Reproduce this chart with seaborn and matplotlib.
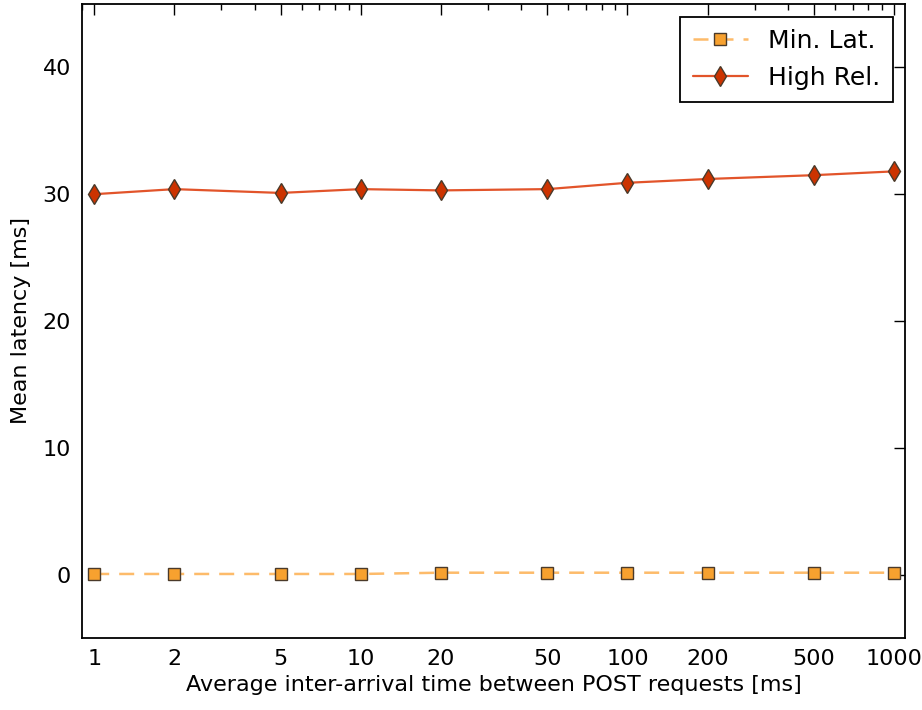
import matplotlib
matplotlib.use("Agg")
import matplotlib.pyplot as plt
import matplotlib.ticker as mticker
import seaborn as sns
import pandas as pd

# Inter-arrival times (ms) and measured mean latencies (ms)
inter_arrival = [1, 2, 5, 10, 20, 50, 100, 200, 500, 1000]
min_lat = [0.05, 0.05, 0.05, 0.05, 0.15, 0.15, 0.15, 0.15, 0.15, 0.15]
high_rel = [30.0, 30.4, 30.1, 30.4, 30.3, 30.4, 30.9, 31.2, 31.5, 31.8]
x_ticks = [1, 2, 5, 10, 20, 50, 100, 200, 500, 1000]

sns.set_style("white", {
    "xtick.direction": "in", "ytick.direction": "in",
    "axes.edgecolor": "black",
    "text.color": "black", "axes.labelcolor": "black",
    "xtick.color": "black", "ytick.color": "black",
})
plt.rcParams["font.family"] = ["DejaVu Sans"]
plt.rcParams["font.size"] = 16

df = pd.DataFrame({
    "x": inter_arrival * 2,
    "y": min_lat + high_rel,
    "config": ["Min. Lat."] * len(inter_arrival) + ["High Rel."] * len(inter_arrival),
})

fig = plt.figure(figsize=(9.22, 7.10), dpi=100)
ax = fig.add_axes([82 / 922, 1 - 638 / 710, (905 - 82) / 922, (638 - 4) / 710])

sns.lineplot(data=df[df.config == "Min. Lat."], x="x", y="y", ax=ax,
             color="#fdbb6a", linestyle=(0, (6, 4)), linewidth=1.8,
             marker="s", markersize=9, markerfacecolor="#f7a12f",
             markeredgecolor="#4a3a2a", markeredgewidth=1.0,
             label="Min. Lat.")
sns.lineplot(data=df[df.config == "High Rel."], x="x", y="y", ax=ax,
             color="#e2542a", linewidth=1.6,
             marker="d", markersize=10.5, markerfacecolor="#cc3300",
             markeredgecolor="#4a3a2a", markeredgewidth=1.0,
             label="High Rel.")

ax.set_xscale("log")
ax.set_xlim(0.9, 1100)
ax.set_ylim(-5, 45)
ax.xaxis.set_major_locator(mticker.FixedLocator(x_ticks))
ax.xaxis.set_major_formatter(mticker.FixedFormatter([str(t) for t in x_ticks]))
ax.xaxis.set_minor_locator(mticker.LogLocator(base=10, subs=range(2, 10)))
ax.yaxis.set_major_locator(mticker.MultipleLocator(10))

ax.tick_params(which="both", direction="in", top=True, right=True,
               labelsize=16, pad=8, colors="black")
ax.tick_params(which="major", length=8, width=1)
ax.tick_params(which="minor", length=4, width=1)
for s in ax.spines.values():
    s.set_linewidth(1.3)
    s.set_color("black")

ax.set_xlabel("Average inter-arrival time between POST requests [ms]",
              fontsize=16, labelpad=4, color="black")
ax.set_ylabel("Mean latency [ms]", fontsize=16, labelpad=8, color="black")

leg = ax.legend(loc="upper right", fontsize=18, frameon=True, fancybox=False,
                edgecolor="black", framealpha=1, borderpad=0.5,
                handlelength=2.2, numpoints=1, labelcolor="black")
leg.get_frame().set_linewidth(1.3)

fig.savefig("out.png", dpi=100)
